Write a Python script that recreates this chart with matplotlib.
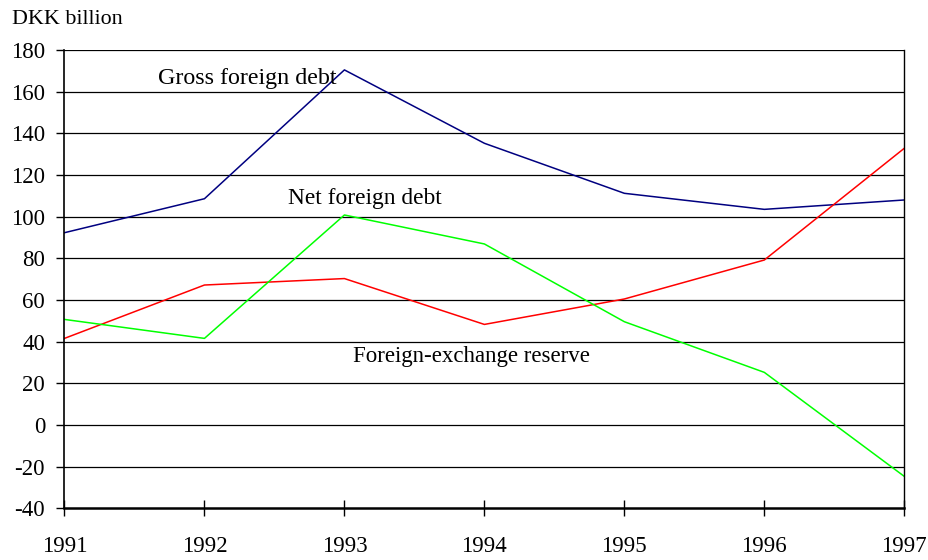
import matplotlib
matplotlib.use("Agg")
import matplotlib.pyplot as plt

years = [1991, 1992, 1993, 1994, 1995, 1996, 1997]
gross_debt = [92.3, 108.6, 170.4, 135.2, 111.2, 103.5, 108.0]
net_debt = [41.6, 67.2, 70.3, 48.3, 60.5, 79.2, 132.8]
fx_reserve = [50.7, 41.6, 100.8, 86.9, 49.6, 25.3, -24.6]
y_ticks = [-40, -20, 0, 20, 40, 60, 80, 100, 120, 140, 160, 180]

plt.rcParams['font.family'] = ['Liberation Serif', 'DejaVu Serif']
plt.rcParams['axes.unicode_minus'] = False

fig = plt.figure(figsize=(9.29, 5.6), dpi=100)
ax = fig.add_axes([0.0694, 0.092, 0.9040, 0.8189])

ax.plot(years, gross_debt, color='#000080', lw=1.1)
ax.plot(years, net_debt, color='#ff0000', lw=1.1)
ax.plot(years, fx_reserve, color='#00ff00', lw=1.1)

ax.set_xlim(1991, 1997)
ax.set_ylim(-40, 180)
ax.set_yticks(y_ticks)
ax.set_xticks(years)
ax.set_xticklabels([str(y) for y in years])

for v in y_ticks:
    if v != -40:
        ax.axhline(v, color='black', lw=0.9, zorder=0)

ax.spines['top'].set_visible(False)
ax.spines['left'].set_linewidth(1.2)
ax.spines['right'].set_linewidth(1.0)
ax.spines['bottom'].set_linewidth(1.8)

ax.tick_params(axis='y', direction='out', length=6, width=1, labelsize=16.5, pad=8)
ax.tick_params(axis='x', direction='inout', length=12, width=1, labelsize=16.5, pad=14)

fig.text(12/929, 1 - 19/560, 'DKK billion', fontsize=15.8, ha='left', va='center')

ax.text(1991.67, 166.5, 'Gross foreign debt', fontsize=17.3, ha='left', va='center')
ax.text(1992.6, 108.5, 'Net foreign debt', fontsize=16.8, ha='left', va='center')
ax.text(1993.06, 33.1, 'Foreign-exchange reserve', fontsize=16.5, ha='left', va='center')

fig.savefig('out.png', dpi=100)
